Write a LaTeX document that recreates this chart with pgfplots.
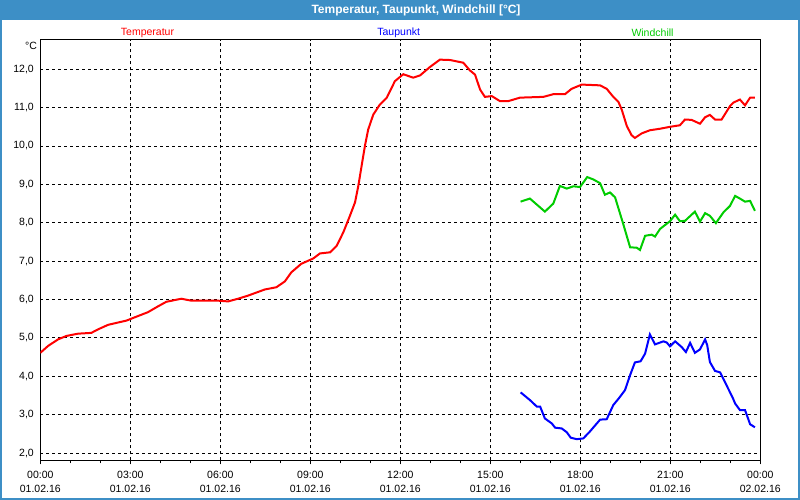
\documentclass[border=0pt]{standalone}
\usepackage{fontspec}
\setmainfont{Liberation Sans}
\usepackage{pgfplots}
\pgfplotsset{compat=1.18}
\definecolor{wintitle}{RGB}{61,143,198}
\definecolor{tempred}{RGB}{255,0,0}
\definecolor{dewblue}{RGB}{0,0,255}
\definecolor{chillgreen}{RGB}{0,204,0}

% hours since 01.02.16 00:00, value in degC
\pgfplotstableread{
h v
0 4.61
0.26 4.79
0.59 4.96
0.87 5.05
1.26 5.11
1.7 5.13
1.92 5.22
2.26 5.34
2.59 5.40
2.87 5.45
3.26 5.57
3.59 5.67
3.92 5.82
4.2 5.94
4.7 6.02
5.03 5.97
5.92 5.97
6.26 5.95
6.59 6.02
6.92 6.10
7.48 6.26
7.87 6.32
8.15 6.47
8.37 6.71
8.7 6.93
9.1 7.07
9.32 7.20
9.66 7.23
9.88 7.40
10.1 7.75
10.32 8.18
10.49 8.53
10.6 8.96
10.71 9.48
10.82 10.0
10.93 10.43
11.1 10.82
11.32 11.08
11.55 11.26
11.82 11.69
12.1 11.87
12.43 11.78
12.66 11.84
12.99 12.06
13.32 12.25
13.66 12.24
14.1 12.17
14.32 11.97
14.49 11.86
14.66 11.47
14.82 11.28
15.05 11.30
15.32 11.17
15.6 11.17
15.99 11.26
16.77 11.28
17.1 11.35
17.49 11.35
17.71 11.49
18.05 11.60
18.66 11.58
18.88 11.49
19.1 11.28
19.27 11.15
19.38 10.95
19.55 10.52
19.71 10.28
19.82 10.21
20.05 10.33
20.32 10.41
20.66 10.45
20.99 10.50
21.32 10.54
21.49 10.69
21.71 10.68
21.99 10.58
22.16 10.75
22.32 10.81
22.49 10.69
22.71 10.69
22.99 11.04
23.1 11.13
23.32 11.21
23.49 11.06
23.66 11.26
23.82 11.26
}\temperatur

\pgfplotstableread{
h v
16.01 8.55
16.32 8.63
16.82 8.29
17.1 8.50
17.32 8.96
17.55 8.89
17.77 8.95
17.99 8.93
18.23 9.19
18.43 9.13
18.66 9.03
18.82 8.73
18.99 8.79
19.16 8.66
19.43 7.97
19.66 7.36
19.88 7.35
19.99 7.29
20.16 7.66
20.38 7.69
20.49 7.64
20.66 7.84
20.99 8.04
21.16 8.21
21.32 8.04
21.49 8.05
21.82 8.29
21.99 8.03
22.16 8.25
22.32 8.18
22.52 7.99
22.77 8.27
22.99 8.44
23.16 8.70
23.32 8.63
23.49 8.55
23.66 8.57
23.82 8.31
}\windchill

\pgfplotstableread{
h v
16.01 3.58
16.32 3.38
16.55 3.21
16.66 3.21
16.82 2.90
17.05 2.77
17.16 2.66
17.38 2.64
17.55 2.54
17.68 2.40
17.88 2.36
18.1 2.38
18.32 2.56
18.66 2.87
18.88 2.88
19.1 3.25
19.3 3.44
19.49 3.64
19.66 4.03
19.82 4.36
20.01 4.39
20.16 4.59
20.23 4.81
20.32 5.09
20.49 4.83
20.77 4.91
20.88 4.88
20.99 4.78
21.16 4.91
21.38 4.76
21.52 4.63
21.66 4.87
21.82 4.61
21.99 4.70
22.16 4.96
22.23 4.81
22.32 4.37
22.49 4.14
22.66 4.10
22.82 3.85
23.08 3.44
23.16 3.29
23.32 3.12
23.49 3.12
23.66 2.75
23.82 2.67
}\taupunkt

\begin{document}
\begin{tikzpicture}[x=1pt,y=1pt]
\useasboundingbox (0,0) rectangle (800,500);
\fill[white] (0,0) rectangle (800,500);
\fill[wintitle] (0,480) rectangle (800,500);
\draw[wintitle, line width=2pt] (1,1) rectangle (799,499);
\node[white, font=\bfseries\fontsize{12}{14}\selectfont] at (416,490) {Temperatur, Taupunkt, Windchill [°C]};

\begin{axis}[
    at={(40.3pt,39.7pt)}, anchor=south west,
    scale only axis, width=720pt, height=420.6pt,
    xmin=0, xmax=24, ymin=1.81, ymax=12.77,
    axis line style={black, line width=1pt},
    xtick={0,3,...,24},
    xticklabels={{00:00\\01.02.16},{03:00\\01.02.16},{06:00\\01.02.16},{09:00\\01.02.16},{12:00\\01.02.16},{15:00\\01.02.16},{18:00\\01.02.16},{21:00\\01.02.16},{00:00\\02.02.16}},
    minor x tick num=2,
    ytick={2,3,...,12},
    tick pos=left,
    tick align=outside,
    xtick style={black, line width=1pt},
    ytick style={draw=none},
    major tick length=4pt, minor tick length=3pt,
    grid=major,
    major grid style={black, line width=0.8pt, dash pattern=on 3pt off 3pt},
    xticklabel style={align=center, font=\fontsize{10.5}{14}\selectfont, yshift=-3pt},
    yticklabel style={font=\fontsize{10.5}{12}\selectfont, xshift=1pt},
    /pgf/number format/.cd, use comma, fixed, fixed zerofill, precision=1, assume math mode=true,
]
\addplot[tempred, line width=2pt] table[x=h, y=v] {\temperatur};
\addplot[chillgreen, line width=2pt] table[x=h, y=v] {\windchill};
\addplot[dewblue, line width=2pt] table[x=h, y=v] {\taupunkt};
\end{axis}

\node[font=\fontsize{10.5}{12}\selectfont] at (31,454) {°C};
\node[tempred, font=\fontsize{10.5}{12}\selectfont] at (147.5,467.5) {Temperatur};
\node[dewblue, font=\fontsize{10.5}{12}\selectfont] at (398.7,467.5) {Taupunkt};
\node[chillgreen, font=\fontsize{10.5}{12}\selectfont] at (652.5,467.5) {Windchill};
\end{tikzpicture}
\end{document}
